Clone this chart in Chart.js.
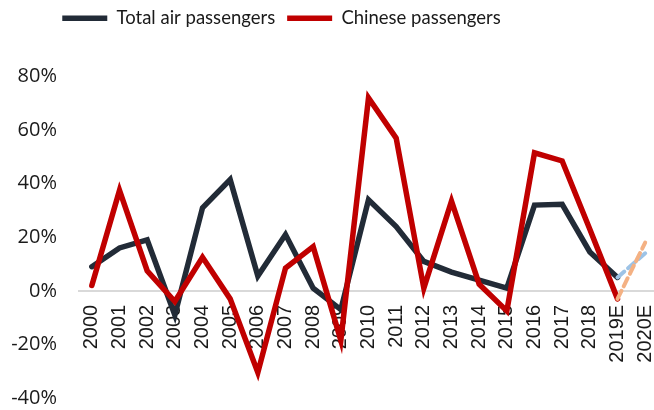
<!DOCTYPE html>
<html>
<head>
<meta charset="utf-8">
<script src="https://cdn.jsdelivr.net/npm/chart.js@4"></script>
<style>
  html, body { margin: 0; padding: 0; background: #fff; overflow: hidden; }
  #wrap { position: relative; width: 659px; height: 410px; }
</style>
</head>
<body>
<div id="wrap"><canvas id="paxChart"></canvas></div>
<script>
// =========================
// DATA
// =========================

const years = ["2000","2001","2002","2003","2004","2005","2006","2007","2008","2009",
  "2010","2011","2012","2013","2014","2015","2016","2017","2018","2019E","2020E"];

// growth yoy, % (2000 .. 2019E)
const totalPax   = [9, 16, 19, -9, 31, 41.5, 5.5, 21, 1, -7, 34, 24, 11, 7, 4, 1, 32, 32.3, 14.5, 5];
const chinesePax = [2, 37.5, 7.5, -4, 12.5, -3, -30.5, 8.5, 16.5, -18.5, 72, 57, 1, 33.5, 2.5, -7.5, 51.5, 48.5, 23, -3];

// forecast leg 2019E -> 2020E
const totalPaxFcst   = [5, 14];
const chinesePaxFcst = [-3, 18];

const yTicks = { min: -40, max: 80, step: 20 };

// =========================
// HELPERS
// =========================

function padTo(arr, len){
  const out = arr.slice();
  while(out.length < len) out.push(null);
  return out;
}

function forecastRow(vals){
  const out = new Array(years.length - vals.length).fill(null);
  return out.concat(vals);
}

const TOP_PAD = 36;

// legend sits left of centre and above the padded area
const moveLegend = {
  id: "moveLegend",
  afterLayout(chart){
    const lg = chart.legend;
    if(!lg) return;
    const dx = -48, dy = -(TOP_PAD + 3);
    lg.left += dx; lg.right += dx;
    lg.top += dy; lg.bottom += dy;
  }
};

// =========================
// CHART
// =========================

const ctx = document.getElementById("paxChart").getContext("2d");

new Chart(ctx, {
  type: "line",
  data: {
    labels: years,
    datasets: [
      {
        label: "Total air passengers",
        data: padTo(totalPax, years.length),
        borderColor: "#222b37",
        backgroundColor: "#222b37",
        borderWidth: 5.5,
        borderCapStyle: "round",
        order: 3
      },
      {
        label: "Chinese passengers",
        data: padTo(chinesePax, years.length),
        borderColor: "#c00000",
        backgroundColor: "#c00000",
        borderWidth: 5.5,
        borderCapStyle: "round",
        order: 2
      },
      {
        label: "Total fcst",
        data: forecastRow(totalPaxFcst),
        borderColor: "#9dc3e6",
        borderWidth: 4,
        borderDash: [9, 5],
        borderCapStyle: "round",
        order: 1
      },
      {
        label: "Chinese fcst",
        data: forecastRow(chinesePaxFcst),
        borderColor: "#f4b183",
        borderWidth: 4,
        borderDash: [9, 5],
        borderCapStyle: "round",
        order: 0
      }
    ]
  },
  options: {
    responsive: true,
    maintainAspectRatio: false,
    animation: false,
    layout: { padding: { left: 0, top: TOP_PAD, right: 0, bottom: 12 } },
    elements: {
      point: { radius: 0, hoverRadius: 0 },
      line: { tension: 0, borderJoinStyle: "miter" }
    },
    plugins: {
      tooltip: { enabled: false },
      legend: {
        position: "top",
        align: "center",
        labels: {
          filter: item => item.datasetIndex < 2,
          sort: (a, b) => a.datasetIndex - b.datasetIndex,
          usePointStyle: true,
          pointStyle: "line",
          pointStyleWidth: 45,
          boxHeight: 5,
          padding: 12,
          color: "#1a1a1a",
          font: { family: "Lato", size: 18.5 }
        }
      }
    },
    scales: {
      x: {
        type: "category",
        position: { y: 0 },
        offset: true,
        grid: { display: false, drawTicks: false },
        border: { display: false },
        ticks: {
          minRotation: 90,
          maxRotation: 90,
          autoSkip: false,
          padding: 14,
          color: "#1a1a1a",
          font: { family: "'Liberation Sans'", size: 20 }
        },
        afterFit(scale){
          scale.paddingLeft = 0;
          scale.paddingRight = 0;
        }
      },
      y: {
        min: yTicks.min,
        max: yTicks.max,
        border: { display: false },
        grid: {
          drawTicks: false,
          lineWidth: 2,
          color: c => c.tick && c.tick.value === 0 ? "#d9d9d9" : "rgba(0,0,0,0)"
        },
        ticks: {
          stepSize: yTicks.step,
          padding: 21,
          color: "#1a1a1a",
          font: { family: "'Open Sans'", size: 20 },
          callback: v => v + "%"
        },
        afterFit(scale){
          scale.width = 78;
          scale.paddingTop = 0;
          scale.paddingBottom = 0;
        }
      }
    }
  },
  plugins: [moveLegend]
});
</script>
</body>
</html>
